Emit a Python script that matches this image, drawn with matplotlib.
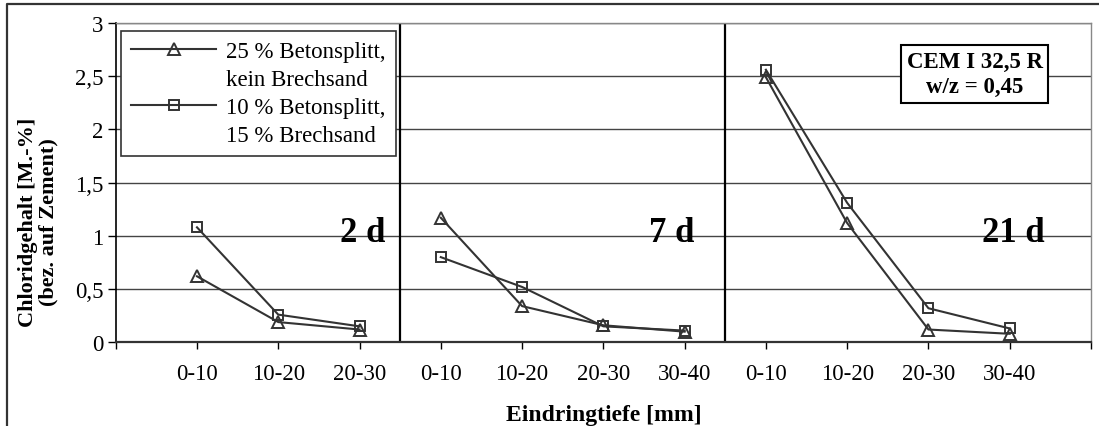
import numpy as np
import matplotlib
matplotlib.use("Agg")
import matplotlib.pyplot as plt
from matplotlib.lines import Line2D

plt.rcParams['font.family'] = ['Liberation Serif', 'DejaVu Serif']

# Chloridgehalt je Tiefenstufe, gruppiert nach Lagerungsdauer
groups = ["2 d", "7 d", "21 d"]
tiefen = [["0-10", "10-20", "20-30"],
          ["0-10", "10-20", "20-30", "30-40"],
          ["0-10", "10-20", "20-30", "30-40"]]

splitt25 = [[0.62, 0.19, 0.12],
            [1.17, 0.34, 0.16, 0.10],
            [2.49, 1.12, 0.12, 0.08]]
splitt10_sand15 = [[1.08, 0.26, 0.15],
                   [0.80, 0.52, 0.15, 0.11],
                   [2.56, 1.31, 0.32, 0.13]]

labels_legend = ["25 % Betonsplitt,", "kein Brechsand",
                 "10 % Betonsplitt,", "15 % Brechsand"]

fig = plt.figure(figsize=(10.99, 4.27), dpi=100)
ax = fig.add_axes([0.1053, 0.196, 0.9927 - 0.1053, 0.944 - 0.196])

line_col = '#333333'
tick_labels = ['']
pos = 1
seps = []
for g in range(len(groups)):
    n = len(tiefen[g])
    x = np.arange(pos, pos + n)
    ax.plot(x, splitt25[g], color=line_col, lw=1.5, marker='^', ms=8.5,
            mfc='none', mec=line_col, mew=1.4, zorder=3)
    ax.plot(x, splitt10_sand15[g], color=line_col, lw=1.5, marker='s', ms=6.5,
            mfc='none', mec=line_col, mew=1.4, zorder=3)
    tick_labels += tiefen[g]
    pos += n
    seps.append(pos - 0.5)
tick_labels.append('')

# Trennlinien zwischen den Altersgruppen
for s in seps[:-1]:
    ax.axvline(s, color='black', lw=1.6, zorder=2)

# Beschriftung der Gruppen
group_pos = [3.32, 7.125, 11.43]
for name, xp in zip(groups, group_pos):
    ax.text(xp, 0.95, name, ha='right', va='baseline', fontsize=25,
            fontweight='bold', zorder=4)

ax.set_xlim(0, len(tick_labels) - 1)
ax.set_ylim(0, 3)
ax.set_xticks(np.arange(len(tick_labels)))
ax.set_xticklabels(tick_labels, fontsize=16.5)
ax.set_yticks(np.arange(0, 3.01, 0.5))
ax.set_yticklabels(['0', '0,5', '1', '1,5', '2', '2,5', '3'], fontsize=16.5)
ax.tick_params(axis='x', direction='out', length=5, width=1, pad=10)
ax.tick_params(axis='y', direction='out', length=6, width=1, pad=3)

ax.yaxis.grid(True, color='#444444', lw=1)
ax.set_axisbelow(True)
ax.spines['left'].set_color('black')
ax.spines['left'].set_linewidth(1.2)
ax.spines['bottom'].set_color('#333333')
ax.spines['bottom'].set_linewidth(1.6)
for side in ['top', 'right']:
    ax.spines[side].set_color('#888888')
    ax.spines[side].set_linewidth(1)

ax.set_xlabel('Eindringtiefe [mm]', fontsize=17, fontweight='bold', labelpad=14)

fig.text(0.035, 0.48, 'Chloridgehalt [M.-%]\n(bez. auf Zement)', rotation=90,
         ha='center', va='center', multialignment='center', fontsize=16,
         fontweight='bold', linespacing=1.05)

# Legende: Marker nur an der ersten Zeile jedes Eintrags
handles = [Line2D([], [], color=line_col, lw=1.5, marker='^', ms=8.5, mfc='none', mew=1.4),
           Line2D([], [], color='none'),
           Line2D([], [], color=line_col, lw=1.5, marker='s', ms=6.5, mfc='none', mew=1.4),
           Line2D([], [], color='none')]
leg = ax.legend(handles, labels_legend, loc='upper left',
                bbox_to_anchor=((121 - 115.7) / 975.3, 1 - (31.7 - 24) / 319.3),
                fontsize=16.5, frameon=True, fancybox=False, framealpha=1,
                edgecolor='#333333', handlelength=3.7, handletextpad=0.45,
                labelspacing=0.3, borderpad=0.45, borderaxespad=0)
leg.get_frame().set_linewidth(1.2)
leg.set_zorder(5)

ax.text(10.57, 2.52, 'CEM I 32,5 R\nw/z = 0,45', ha='center', va='center',
        fontsize=16.5, fontweight='bold', linespacing=1.3, zorder=5,
        bbox=dict(boxstyle='square,pad=0.25', fc='white', ec='black', lw=1.5))

# Rahmen um das Diagramm
fx = 7 / 1099
fy = 1 - 5 / 427
fig.add_artist(Line2D([fx, fx, 1.0], [0.0, fy, fy], color='#333333', lw=1.6,
                      transform=fig.transFigure))

fig.savefig('out.png', dpi=100)
